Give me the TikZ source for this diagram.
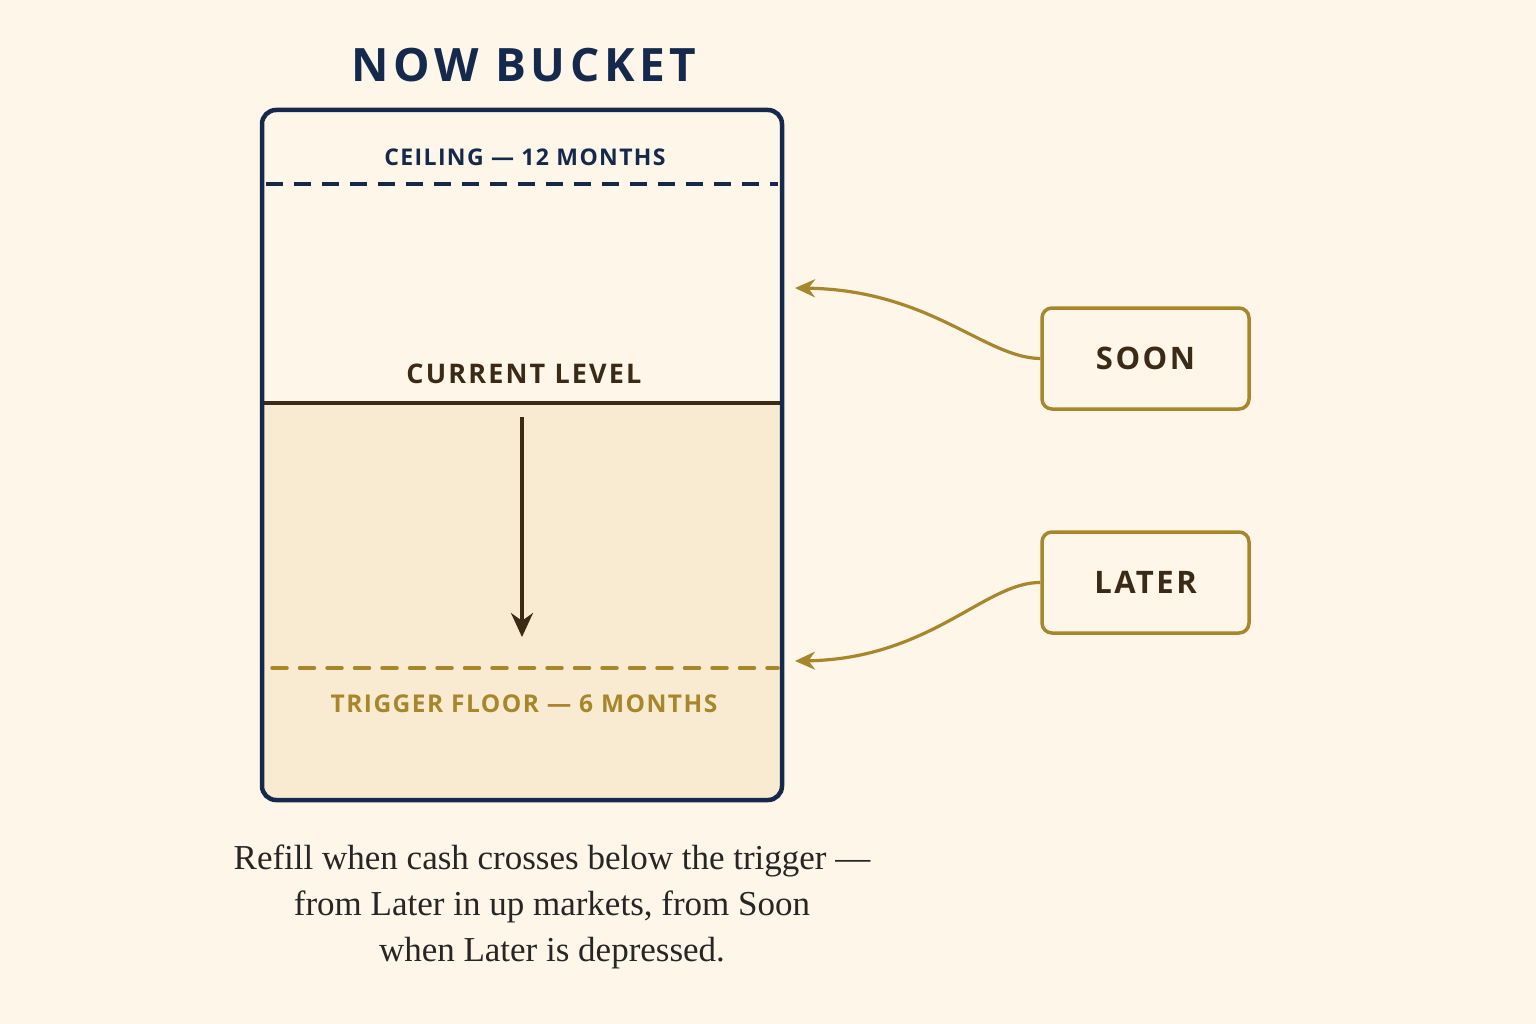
\documentclass[tikz,border=0pt]{standalone}
\usepackage{fontspec}
\setmainfont{Liberation Serif}
\newfontfamily\labfont[LetterSpace=8]{Open Sans}
\newfontfamily\smlabfont[LetterSpace=6]{Open Sans}
\newfontfamily\titlefont[LetterSpace=10]{Open Sans}
\usetikzlibrary{arrows.meta}
\definecolor{bg}{HTML}{FDF6E9}
\definecolor{lowfill}{HTML}{F8EBD1}
\definecolor{navy}{HTML}{14294B}
\definecolor{gold}{HTML}{A8862C}
\definecolor{brown}{HTML}{3B2A16}
\tikzset{
  lab/.style={inner sep=0pt, anchor=center, font=\labfont\bfseries},
  tagbox/.style={draw=gold, line width=3.5pt, rounded corners=10pt, minimum width=207pt, minimum height=101pt, fill=bg, text=brown, font=\labfont\bfseries\fontsize{31}{36}\selectfont},
  feed/.style={draw=gold, line width=3.2pt, -{Stealth[length=20pt,width=18pt]}},
}
\begin{document}
\begin{tikzpicture}[x=1pt,y=-1pt]
\fill[bg] (0,0) rectangle (1536,1024);
\useasboundingbox (0,0) rectangle (1536,1024);
% bucket fill
\begin{scope}
\clip[rounded corners=14pt] (262,110) rectangle (782,800);
\fill[lowfill] (262,403) rectangle (782,800);
\end{scope}
% title
\node[lab, font=\titlefont\bfseries\fontsize{46}{52}\selectfont, text=navy] (title) at (524,65) {NOW BUCKET};
% ceiling
\node[lab, font=\smlabfont\bfseries\fontsize{23}{28}\selectfont, text=navy] (ceil) at (525,157) {CEILING — 12 MONTHS};
\coordinate (ceilL) at (266,184);
\coordinate (ceilR) at (778,184);
\draw[navy, line width=3.5pt, dash pattern=on 17pt off 11pt] (ceilL) -- (ceilR);
% current level
\node[lab, font=\labfont\bfseries\fontsize{27}{30}\selectfont, text=brown] (cur) at (524,374) {CURRENT LEVEL};
\coordinate (curL) at (264,403);
\coordinate (curR) at (780,403);
\draw[brown, line width=3.5pt] (curL) -- (curR);
% down arrow
\coordinate (dnA) at (522,417);
\coordinate (dnB) at (522,637);
\draw[brown, line width=3.5pt, -{Stealth[length=24pt,width=22pt]}] (dnA) -- (dnB);
% trigger
\coordinate (trigL) at (272,668);
\coordinate (trigR) at (778,668);
\draw[gold, line width=3.5pt, line cap=round, dash pattern=on 15pt off 12.5pt] (trigL) -- (trigR);
\node[lab, font=\smlabfont\bfseries\fontsize{24.5}{28}\selectfont, text=gold] (trig) at (524,704) {TRIGGER FLOOR — 6 MONTHS};
% bucket border
\draw[navy, line width=4.5pt, rounded corners=14pt] (262,110) rectangle (782,800);
% tags
\node[tagbox] (soon) at (1145.5,358.5) {SOON};
\node[tagbox] (later) at (1145.5,582.5) {LATER};
\coordinate (soonEnd) at (795,288);
\coordinate (laterEnd) at (795,661);
\draw[feed] (soon.west) .. controls (985,358) and (930,290) .. (soonEnd);
\draw[feed] (later.west) .. controls (985,582) and (930,659) .. (laterEnd);
% caption
\node[align=center, font=\fontsize{35}{46}\selectfont, text=black!85, inner sep=0pt] (cap) at (552,907) {Refill when cash crosses below the trigger —\\from Later in up markets, from Soon\\when Later is depressed.};
\end{tikzpicture}
\end{document}
